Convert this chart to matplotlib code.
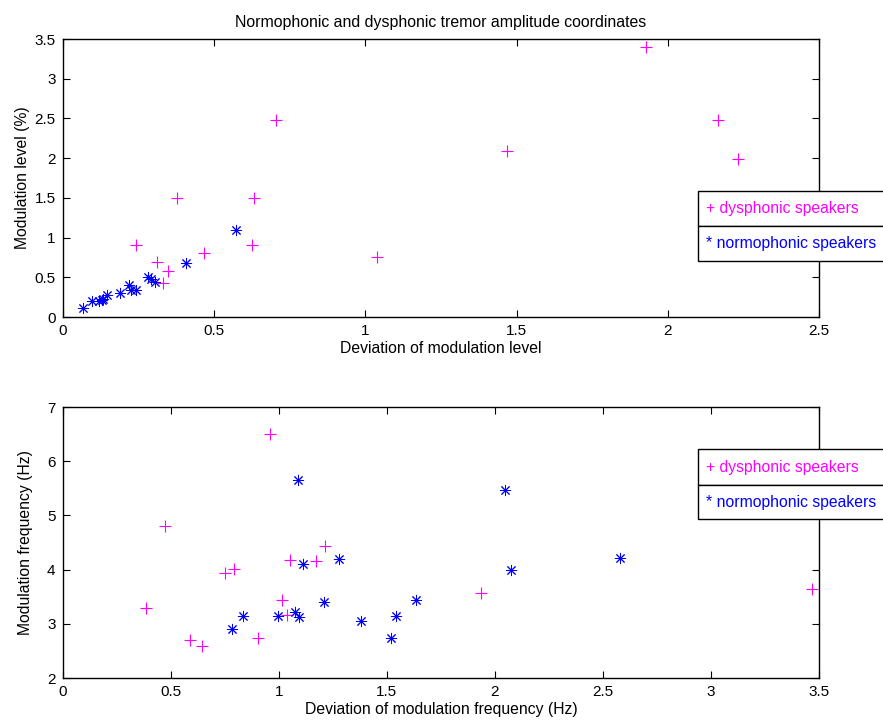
"""
Normophonic vs dysphonic tremor amplitude / frequency coordinates.
Two stacked scatter panels with MATLAB-style boxed legends.
"""
import matplotlib
matplotlib.use("Agg")
import matplotlib.pyplot as plt
from matplotlib.patches import Rectangle

plt.rcParams["font.family"] = ["Liberation Sans", "DejaVu Sans"]

# --- Data ---
# Top panel: modulation level
dys_level_dev = [1.929, 2.167, 2.231, 1.468, 1.038, 0.377, 0.632, 0.243, 0.626,
                 0.468, 0.313, 0.348, 0.331, 0.705]
dys_level = [3.40, 2.48, 1.99, 2.09, 0.75, 1.50, 1.50, 0.91, 0.91,
             0.81, 0.69, 0.58, 0.425, 2.48]
norm_level_dev = [0.574, 0.408, 0.067, 0.096, 0.122, 0.135, 0.148, 0.189, 0.221,
                  0.225, 0.243, 0.282, 0.291, 0.304, 0.130]
norm_level = [1.09, 0.685, 0.11, 0.20, 0.20, 0.23, 0.28, 0.30, 0.40,
              0.34, 0.34, 0.50, 0.475, 0.44, 0.21]

# Bottom panel: modulation frequency
dys_freq_dev = [0.961, 0.472, 0.386, 0.591, 0.643, 0.753, 0.793, 0.904, 1.017,
                1.040, 1.054, 1.171, 1.214, 1.934, 3.466]
dys_freq = [6.50, 4.81, 3.29, 2.71, 2.60, 3.94, 4.02, 2.74, 3.44,
            3.16, 4.17, 4.15, 4.44, 3.56, 3.65]
norm_freq_dev = [1.088, 1.113, 1.279, 0.833, 0.786, 0.995, 1.076, 1.094, 1.211,
                 1.381, 1.520, 1.543, 1.637, 2.045, 2.073, 2.579]
norm_freq = [5.65, 4.10, 4.20, 3.14, 2.90, 3.14, 3.21, 3.12, 3.40,
             3.06, 2.74, 3.14, 3.44, 5.47, 3.99, 4.22]

MAGENTA = "#FF00FF"
BLUE = "#0000FF"
ASTERISK = (8, 2, 0)

fig = plt.figure(figsize=(8.83, 7.21), dpi=100)
ax1 = fig.add_axes([0.0708, 0.5603, 0.8570, 0.3856])
ax2 = fig.add_axes([0.0708, 0.0596, 0.8570, 0.3759])


def style(ax):
    ax.tick_params(direction="in", length=5, width=0.8, labelsize=11,
                   top=True, right=True, pad=5)
    for s in ax.spines.values():
        s.set_linewidth(1.0)


# Top panel
ax1.plot(dys_level_dev, dys_level, ls="none", marker="+", ms=8, mew=0.8,
         color=MAGENTA)
ax1.plot(norm_level_dev, norm_level, ls="none", marker=ASTERISK, ms=8, mew=0.7,
         color=BLUE)
ax1.set_xlim(0, 2.5)
ax1.set_ylim(0, 3.5)
ax1.set_xticks([0, 0.5, 1, 1.5, 2, 2.5])
ax1.set_xticklabels(["0", "0.5", "1", "1.5", "2", "2.5"])
ax1.set_yticks([0, 0.5, 1, 1.5, 2, 2.5, 3, 3.5])
ax1.set_yticklabels(["0", "0.5", "1", "1.5", "2", "2.5", "3", "3.5"])
ax1.set_xlabel("Deviation of modulation level", fontsize=11.3, labelpad=2)
ax1.set_ylabel("Modulation level (%)", fontsize=11.3, labelpad=3)
ax1.set_title("Normophonic and dysphonic tremor amplitude coordinates",
              fontsize=11.4, pad=9)
style(ax1)

# Bottom panel
ax2.plot(dys_freq_dev, dys_freq, ls="none", marker="+", ms=8, mew=0.8,
         color=MAGENTA)
ax2.plot(norm_freq_dev, norm_freq, ls="none", marker=ASTERISK, ms=8, mew=0.7,
         color=BLUE)
ax2.set_xlim(0, 3.5)
ax2.set_ylim(2, 7)
ax2.set_xticks([0, 0.5, 1, 1.5, 2, 2.5, 3, 3.5])
ax2.set_xticklabels(["0", "0.5", "1", "1.5", "2", "2.5", "3", "3.5"])
ax2.set_yticks([2, 3, 4, 5, 6, 7])
ax2.set_xlabel("Deviation of modulation frequency (Hz)", fontsize=11.3, labelpad=2)
ax2.set_ylabel("Modulation frequency (Hz)", fontsize=11.3, labelpad=10)
style(ax2)


# MATLAB-style legend boxes (running past the right figure edge)
def legend_box(top_px, mid_px, bot_px):
    W, H = 883.0, 721.0
    left = 698.0 / W
    width = 200.0 / W
    for y0, y1 in [(top_px, mid_px), (mid_px, bot_px)]:
        fig.add_artist(Rectangle((left, 1 - y1 / H), width, (y1 - y0) / H,
                                 transform=fig.transFigure, facecolor="white",
                                 edgecolor="black", linewidth=1.0, clip_on=False))
    fig.text(706 / W, 1 - (top_px + mid_px) / 2 / H, "+ dysphonic speakers",
             color=MAGENTA, fontsize=11.3, va="center", ha="left")
    fig.text(706 / W, 1 - (mid_px + bot_px) / 2 / H, "* normophonic speakers",
             color=BLUE, fontsize=11.3, va="center", ha="left")


legend_box(190.7, 225.7, 260.7)
legend_box(449.3, 485.0, 519.3)

fig.savefig("out.png", dpi=100)
